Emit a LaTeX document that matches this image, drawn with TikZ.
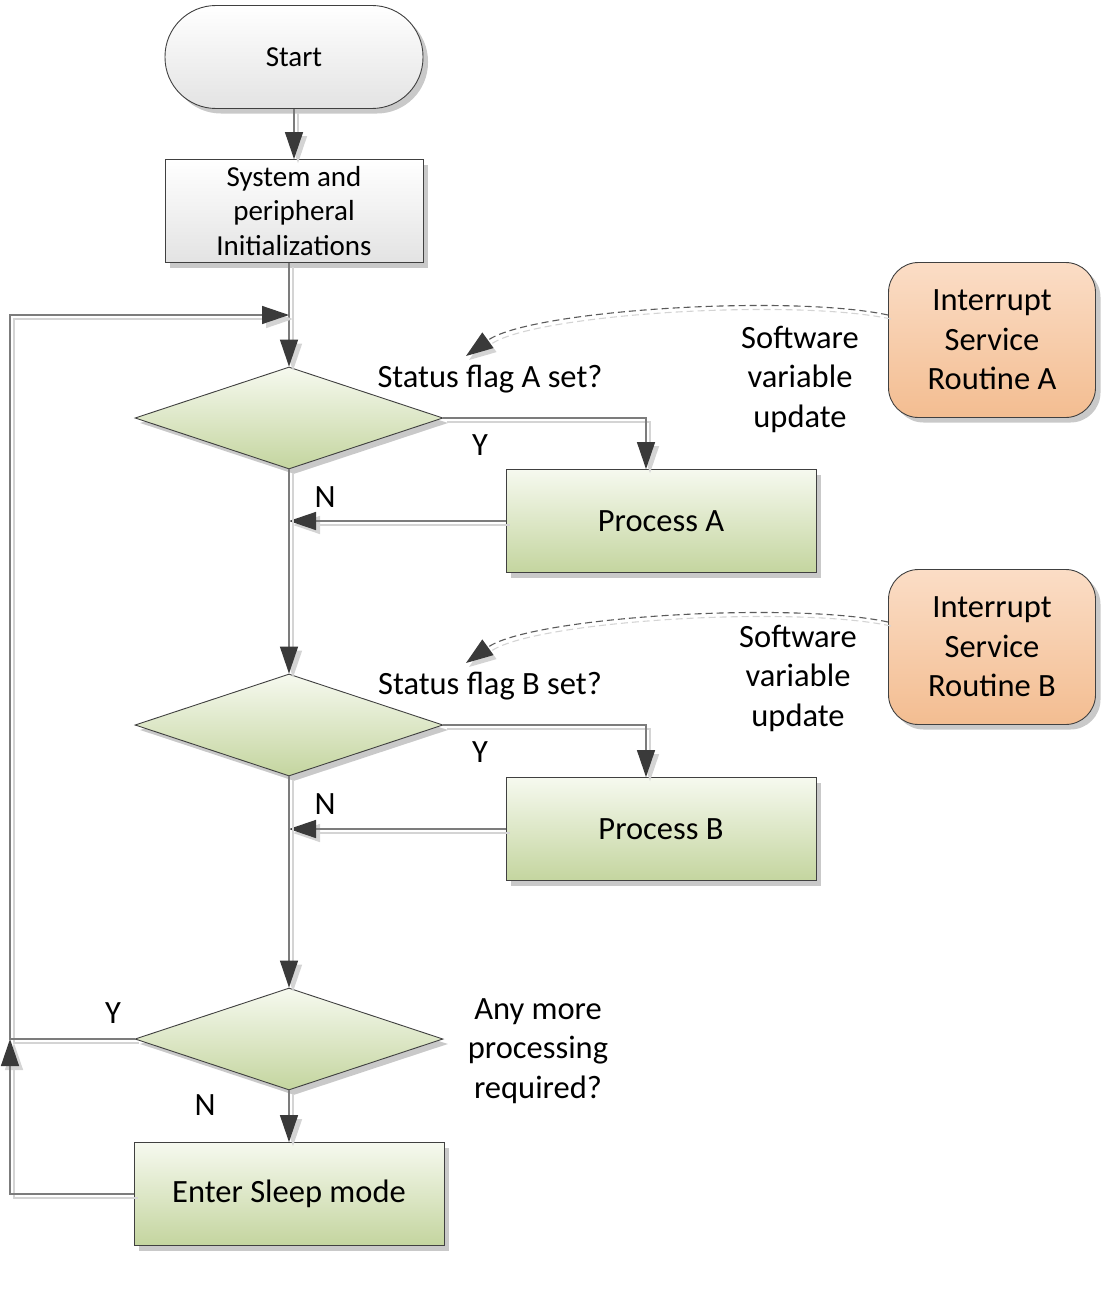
\documentclass[tikz,border=0pt]{standalone}
\usepackage{fontspec}
\setmainfont{Carlito}
\usetikzlibrary{shapes.geometric,arrows.meta,shadows,calc}

\definecolor{edge}{HTML}{404040}
\definecolor{wire}{HTML}{7C7C7C}
\definecolor{dashwire}{HTML}{5A5A5A}
\definecolor{wireshade}{HTML}{D4D4D4}
\definecolor{tipdark}{HTML}{3A3A3A}
\definecolor{greentop}{HTML}{F6F9EF}
\definecolor{greenbot}{HTML}{C4D59F}
\definecolor{peachtop}{HTML}{FBDDC6}
\definecolor{peachbot}{HTML}{F3BD91}
\definecolor{greybot}{HTML}{E3E3E3}
\definecolor{boxshade}{HTML}{C9C9C9}

\tikzset{
  boxshadow/.style={drop shadow={shadow xshift=5pt,shadow yshift=-5pt,fill=boxshade,opacity=1}},
  bigtext/.style={font=\fontsize{32.5}{39.5}\selectfont, align=center},
  smalltext/.style={font=\fontsize{29}{34.5}\selectfont, align=center},
  terminal/.style={draw=edge, line width=0.9pt, rounded corners=51pt, top color=white, bottom color=greybot,
    boxshadow, smalltext, minimum width=258pt, minimum height=103pt, inner sep=0pt},
  initbox/.style={draw=edge, line width=0.9pt, top color=white, bottom color=greybot,
    boxshadow, smalltext, minimum width=258pt, minimum height=103pt, inner sep=0pt},
  procbox/.style={draw=edge, line width=0.9pt, top color=greentop, bottom color=greenbot,
    boxshadow, bigtext, minimum width=310pt, minimum height=103pt, inner sep=0pt},
  decision/.style={diamond, draw=edge, line width=0.9pt, top color=greentop, bottom color=greenbot,
    boxshadow, minimum width=308pt, minimum height=102pt, inner sep=0pt},
  isrbox/.style={draw=edge, line width=0.9pt, rounded corners=30pt, top color=peachtop, bottom color=peachbot,
    boxshadow, bigtext, minimum width=207pt, minimum height=155pt, inner sep=0pt},
  lbl/.style={bigtext, inner sep=0pt},
  flow/.style={draw=wire, line width=1.4pt, -{Triangle[length=27pt,width=18pt,color=tipdark]},
    preaction={draw=wireshade, line width=1.4pt, -{Triangle[length=27pt,width=18pt,color=wireshade]},
      transform canvas={shift={(4pt,-4pt)}}}},
  dashflow/.style={draw=dashwire, line width=1.1pt, dash pattern=on 7pt off 4pt,
    -{Triangle[length=27pt,width=19pt,color=tipdark]},
    preaction={draw=wireshade, line width=1.1pt, dash pattern=on 7pt off 4pt,
      -{Triangle[length=27pt,width=19pt,color=wireshade]},
      transform canvas={shift={(3pt,-4pt)}}}},
}

\begin{document}
\begin{tikzpicture}[x=1pt,y=-1pt]
  \useasboundingbox (0,0) rectangle (1106,1290);

  % main column
  \node[terminal] (start) at (294,57) {Start};
  \node[initbox] (init) at (294,211) {System and\\peripheral\\Initializations};
  \node[decision] (decA) at (289,418) {};
  \node[procbox] (procA) at (661,521) {Process A};
  \node[decision] (decB) at (289,725) {};
  \node[procbox] (procB) at (661,829) {Process B};
  \node[decision] (decC) at (289,1039) {};
  \node[procbox] (sleep) at (289,1194) {Enter Sleep mode};

  % interrupt routines
  \node[isrbox] (isrA) at (992,340) {Interrupt\\Service\\Routine A};
  \node[isrbox] (isrB) at (992,647) {Interrupt\\Service\\Routine B};

  % text labels
  \node[lbl] (qA) at (490,379) {Status flag A set?};
  \node[lbl] (qB) at (490,686) {Status flag B set?};
  \node[lbl] (qC) at (538,1051) {Any more\\processing\\required?};
  \node[lbl] (swA) at (800,379) {Software\\variable\\update};
  \node[lbl] (swB) at (798,678) {Software\\variable\\update};
  \node[lbl] (yA) at (480,445) {Y};
  \node[lbl] (nA) at (325,497) {N};
  \node[lbl] (yB) at (480,752) {Y};
  \node[lbl] (nB) at (325,804) {N};
  \node[lbl] (yC) at (113,1013) {Y};
  \node[lbl] (nC) at (205,1105) {N};

  % helper points
  \coordinate (rail) at (10,315);
  \coordinate (railjoin) at (rail |- decC.west);
  \coordinate (flagAin) at (466,356);
  \coordinate (flagBin) at (466,663);

  % connectors
  \draw[flow] (start.south) -- (init.north);
  \draw[flow] (init.south -| decA.north) -- (decA.north);
  \draw[flow] (decA.east) -| ([xshift=-15pt]procA.north);
  \draw[flow] (procA.west) -- (procA.west -| decA.south);
  \draw[flow] (decA.south) -- (decB.north);
  \draw[flow] (decB.east) -| ([xshift=-15pt]procB.north);
  \draw[flow] (procB.west) -- (procB.west -| decB.south);
  \draw[flow] (decB.south) -- (decC.north);
  \draw[flow] (decC.south) -- (sleep.north);
  \draw[flow] (sleep.west) -| (railjoin);
  \draw[flow] (decC.west) -- (railjoin) -- (rail) -- (rail -| decA.north);

  % software flag updates
  \draw[dashflow] ([yshift=25pt]isrA.west) .. controls (790,294) and (530,310) .. (flagAin);
  \draw[dashflow] ([yshift=25pt]isrB.west) .. controls (790,601) and (530,617) .. (flagBin);
\end{tikzpicture}
\end{document}
